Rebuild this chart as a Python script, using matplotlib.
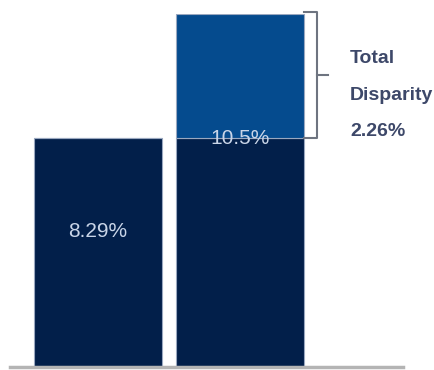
import matplotlib.pyplot as plt

# rates per group and the gap between them
groups = ['A', 'B']
base_rate = [8.29, 8.29]
gap = [0.0, 2.26]
bar_labels = ['8.29%', '10.5%']
gap_label = 'Total\nDisparity\n2.26%'

navy = '#021f4a'
blue = '#054b8e'
narrow = ['DejaVu Sans Condensed', 'Liberation Sans']

fig = plt.figure(figsize=(4.34, 3.70), dpi=100)
ax = fig.add_axes([10 / 434, 3 / 370, 393 / 434, 353 / 370])

x = list(range(len(groups)))
w = 0.9
ax.bar(x, base_rate, width=w, color=navy, edgecolor='#9aa8c0', linewidth=0.8)
ax.bar(x, gap, width=w, bottom=base_rate, color=blue, edgecolor='#9aa8c0', linewidth=0.8)

total = base_rate[1] + gap[1]
ax.set_xlim(-0.62, 2.148)
ax.set_ylim(4.12, total)

lbl_font = dict(family=narrow, fontsize=15, color='#c9d5e8')
ax.text(x[0], base_rate[0] - 1.7, bar_labels[0], ha='center', va='center', **lbl_font)
ax.text(x[1], base_rate[1], bar_labels[1], ha='center', va='center', **lbl_font)

# bracket for the gap
bx = 1.542
y0, y1 = base_rate[1], total + 0.04
ax.plot([1.45, bx, bx, 1.45], [y1, y1, y0, y0], color='#6e7480', lw=1.5, clip_on=False)
ym = (y0 + y1) / 2
ax.plot([bx, 1.62], [ym, ym], color='#6e7480', lw=1.5, clip_on=False)
ax.text(1.775, 9.07, gap_label, ha='left', va='center', fontsize=14, fontweight='bold',
        color='#3d4869', linespacing=2.5, family=narrow, clip_on=False)

for s in ['top', 'right', 'left']:
    ax.spines[s].set_visible(False)
ax.spines['bottom'].set_color('#b4b4b4')
ax.spines['bottom'].set_linewidth(2.5)
ax.set_xticks([])
ax.set_yticks([])

fig.savefig('out.png', dpi=100)
